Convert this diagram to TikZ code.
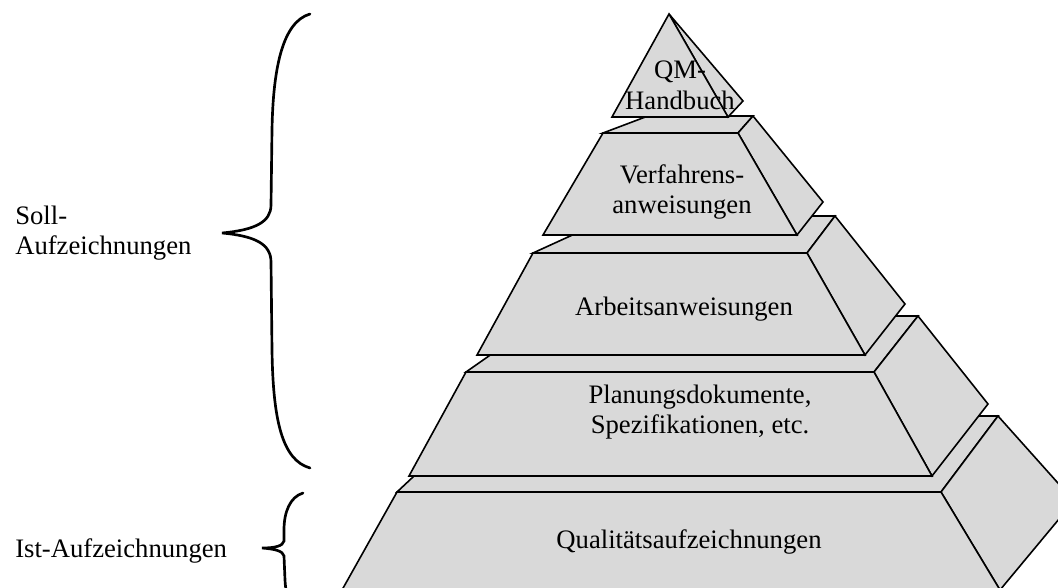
\documentclass[tikz,border=0pt]{standalone}
\usepackage{fontspec}
\setmainfont{Liberation Serif}
\usepackage{tikz}
\usetikzlibrary{positioning}
\definecolor{facegray}{RGB}{217,217,217}
\tikzset{
  face/.style  = {draw, fill=facegray, line width=1.2pt},
  lbl/.style   = {font=\fontsize{20}{23}\selectfont, align=center, inner sep=0pt},
  side/.style  = {font=\fontsize{20}{23}\selectfont, align=left, anchor=west, inner sep=0pt},
  brace/.style = {line width=2pt, line cap=round},
}

\begin{document}
\begin{tikzpicture}[x=0.75pt,y=-0.75pt]
  \useasboundingbox (0,0) rectangle (1058,588);
  \clip (0,0) rectangle (1058,588);

  % bottom layer
  \filldraw[face] (397,492) -- (478,416) -- (998,416) -- (941,492) -- cycle;
  \filldraw[face] (941,492) -- (998,416) -- (1074,501) -- (1000,590) -- cycle;
  \filldraw[face] (342,590) -- (1000,590) -- (941,492) -- (397,492) -- cycle;

  \filldraw[face] (466,372) -- (546,316) -- (918,316) -- (874,372) -- cycle;
  \filldraw[face] (874,372) -- (918,316) -- (988,404) -- (932,476) -- cycle;
  \filldraw[face] (409,476) -- (932,476) -- (874,372) -- (466,372) -- cycle;

  \filldraw[face] (533,253) -- (614,216) -- (835,216) -- (807,253) -- cycle;
  \filldraw[face] (807,253) -- (835,216) -- (905,304) -- (865,355) -- cycle;
  \filldraw[face] (477,355) -- (865,355) -- (807,253) -- (533,253) -- cycle;

  \filldraw[face] (603,133) -- (648,116) -- (753,116) -- (738,133) -- cycle;
  \filldraw[face] (738,133) -- (753,116) -- (823,202) -- (797,235) -- cycle;
  \filldraw[face] (543,235) -- (797,235) -- (738,133) -- (603,133) -- cycle;

  % top
  \filldraw[face] (669,14) -- (743,101) -- (728,117) -- cycle;
  \filldraw[face] (612,117) -- (728,117) -- (669,14) -- cycle;

  \node[lbl] (qm)        at (680,85)  {QM-\\Handbuch};
  \node[lbl] (verfahren) at (682,192) {Verfahrens-\\anweisungen};
  \node[lbl] (arbeit)    at (684,309) {Arbeitsanweisungen};
  \node[lbl] (planung)   at (700,412) {Planungsdokumente,\\Spezifikationen, etc.};
  \node[lbl] (quali)     at (689,542) {Qualitätsaufzeichnungen};

  \draw[brace] (310,14) .. controls (282,22) and (273,70) .. (272,130)
    -- (271,205) .. controls (271,222) and (255,230) .. (222,233)
    .. controls (255,236) and (271,244) .. (271,262)
    -- (272,350) .. controls (273,420) and (282,460) .. (310,468);
  \draw[brace] (303,493) .. controls (290,497) and (284,512) .. (284,530)
    -- (284,541) .. controls (283,546) and (275,548) .. (262,548)
    .. controls (275,549) and (283,551) .. (284,556)
    -- (285,580) .. controls (286,600) and (292,610) .. (303,615);

  \node[side] (soll) at (15,233) {Soll-\\Aufzeichnungen};
  \node[side] (ist)  at (15,551) {Ist-Aufzeichnungen};
\end{tikzpicture}
\end{document}
